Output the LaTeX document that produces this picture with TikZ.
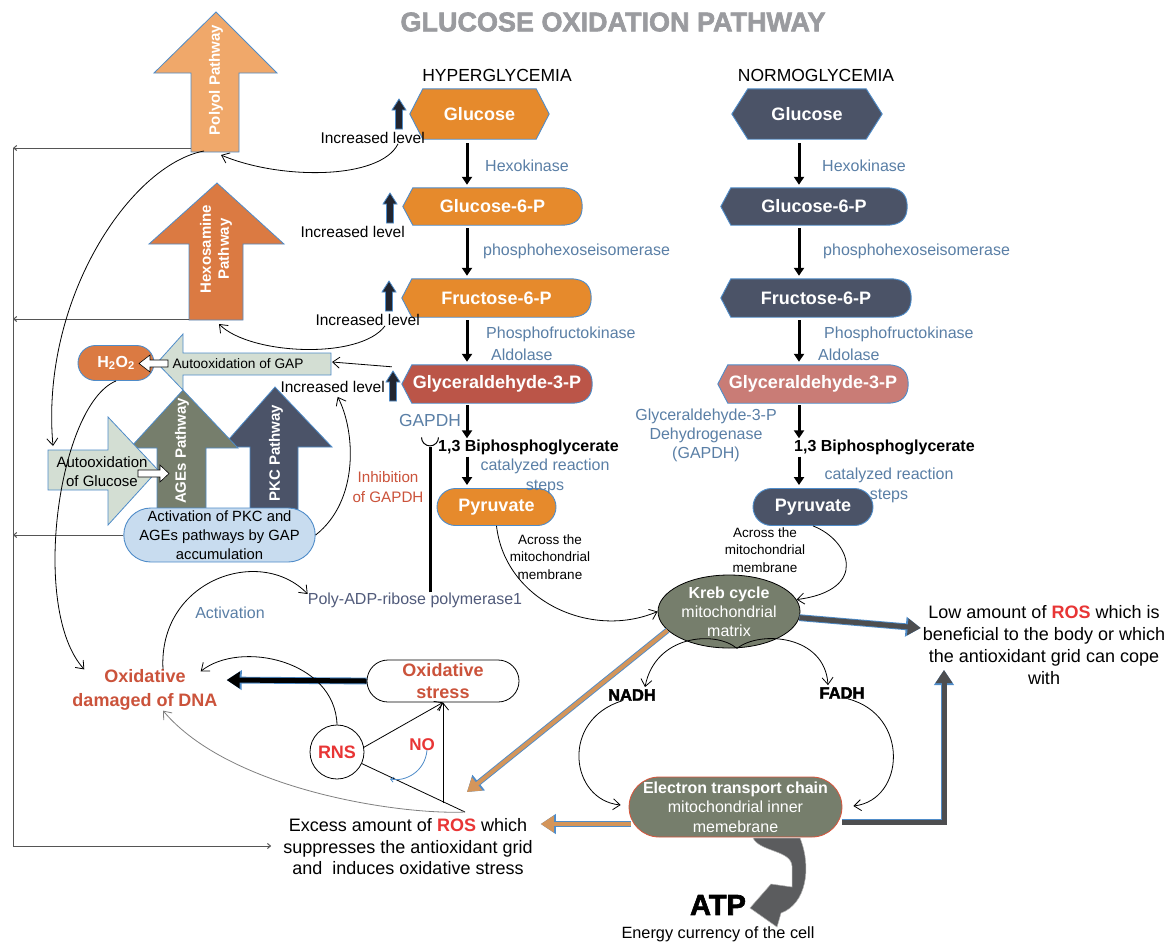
\documentclass[tikz,border=0pt]{standalone}
\usepackage{fontspec}
\setmainfont{Liberation Sans}
\newfontfamily\blackfont{Liberation Sans Bold}[FakeBold=2.2]
\usetikzlibrary{calc,arrows.meta,shapes.geometric,shapes.misc}
\definecolor{orangeb}{HTML}{E68A2C}
\definecolor{slateb}{HTML}{4B5367}
\definecolor{redb}{HTML}{BB5548}
\definecolor{pinkb}{HTML}{C97C76}
\definecolor{edgeblue}{HTML}{4F8CC9}
\definecolor{enzblue}{HTML}{5A7FA6}
\definecolor{polyolc}{HTML}{F0A86A}
\definecolor{hexoc}{HTML}{DB7A42}
\definecolor{paleg}{HTML}{D3DED3}
\definecolor{agesc}{HTML}{767E6C}
\definecolor{pkcc}{HTML}{4B5368}
\definecolor{actc}{HTML}{C8DCEF}
\definecolor{redtxt}{HTML}{CB533B}
\definecolor{rosred}{HTML}{E83535}
\definecolor{krebc}{HTML}{767E6C}
\definecolor{etcedge}{HTML}{D9553C}
\definecolor{darkarr}{HTML}{4D4E50}
\definecolor{atpc}{HTML}{5B5C5E}
\definecolor{orangearr}{HTML}{D4955A}
\definecolor{titlegray}{HTML}{9A9B9F}
\definecolor{polytxt}{HTML}{515B7B}
\definecolor{framegray}{HTML}{555555}
\definecolor{incdark}{HTML}{22252F}
\definecolor{linkgray}{HTML}{808080}
\pgfdeclarelayer{bg}
\pgfsetlayers{bg,main}
\tikzset{
  boxline/.style={draw=edgeblue, line width=0.9pt},
  boxlab/.style={inner sep=0pt, text=white, font=\fontsize{18}{20}\selectfont\bfseries},
  pillbox/.style={boxlab, rounded rectangle, boxline, minimum width=120pt, minimum height=37pt},
  enzlab/.style={inner sep=0pt, text=enzblue, font=\fontsize{16}{20}\selectfont},
  bpglab/.style={inner sep=0pt, font=\fontsize{16}{19}\selectfont\bfseries},
  inclab/.style={inner sep=0pt, font=\fontsize{15.5}{18}\selectfont},
  smalllab/.style={inner sep=0pt, align=center, font=\fontsize{13.5}{17.5}\selectfont},
  biglab/.style={inner sep=0pt, align=center, font=\fontsize{18}{21.5}\selectfont},
  redlab/.style={inner sep=0pt, align=center, text=redtxt, font=\fontsize{18}{23}\selectfont\bfseries},
  pathlab/.style={inner sep=0pt, align=center, text=white, rotate=90, font=\fontsize{15}{18}\selectfont\bfseries},
  flowarr/.style={line width=3pt, -{Triangle[length=8pt,width=10pt]}},
  linkarr/.style={line width=0.8pt, -{Straight Barb[length=7pt,width=11pt]}},
  framel/.style={draw=framegray, line width=1pt},
  tinytip/.style={-{Straight Barb[length=3pt,width=5pt]}},
}
% hexagon behind a node
\newcommand\hexshape[3]{%
  \begin{pgfonlayer}{bg}
  \path[boxline, fill=#2] (#1.west) -- ($(#1.north west)+(#3,0)$) -- ($(#1.north east)+(-#3,0)$)
    -- (#1.east) -- ($(#1.south east)+(-#3,0)$) -- ($(#1.south west)+(#3,0)$) -- cycle;
  \end{pgfonlayer}}
% pointed left end, rounded right end
\newcommand\dispshape[2]{%
  \begin{pgfonlayer}{bg}
  \path[boxline, fill=#2] (#1.west) -- ($(#1.north west)+(10,0)$) -- ($(#1.north east)+(-21,0)$)
    .. controls ($(#1.north east)+(-6,0)$) and ($(#1.east)+(0,-12)$) .. (#1.east)
    .. controls ($(#1.east)+(0,12)$) and ($(#1.south east)+(-6,0)$) .. ($(#1.south east)+(-21,0)$)
    -- ($(#1.south west)+(10,0)$) -- cycle;
  \end{pgfonlayer}}
% small up arrow
\newcommand\incarrow[2]{%
  \path[fill=incdark, draw=edgeblue, line width=0.8pt] (#1-3.5,#2+30) -- (#1-3.5,#2+11) -- (#1-7,#2+11)
    -- (#1,#2) -- (#1+7,#2+11) -- (#1+3.5,#2+11) -- (#1+3.5,#2+30) -- cycle;}
% thick arrow with blue rim
\newcommand\fatarrow[3]{%
  \draw[edgeblue, line width=#2+1.8pt, -{Triangle[length=15pt,width=19pt]}] #3;
  \draw[#1, line width=#2, -{Triangle[length=13pt,width=16pt]}] #3;}

\begin{document}
\begin{tikzpicture}[x=1pt,y=-1pt]
  \useasboundingbox (0,0) rectangle (1167,943);
  \begin{pgfonlayer}{bg}
    \fill[white] (0,0) rectangle (1167,943);
  \end{pgfonlayer}

  \node[font=\fontsize{27}{29}\blackfont, text=titlegray] (title) at (613,22) {GLUCOSE OXIDATION PATHWAY};
  \node[font=\fontsize{17.5}{20}\selectfont] (hyper) at (497,75) {HYPERGLYCEMIA};
  \node[font=\fontsize{17.5}{20}\selectfont] (normo) at (816,75) {NORMOGLYCEMIA};

  % hyperglycemia column
  \node[boxlab, minimum width=139pt, minimum height=50pt] (hglu) at (479.5,114) {Glucose};
  \hexshape{hglu}{orangeb}{13}
  \node[boxlab, minimum width=179pt, minimum height=37pt] (hgsix) at (492.5,206.5) {Glucose-6-P};
  \dispshape{hgsix}{orangeb}
  \node[boxlab, minimum width=189pt, minimum height=38pt] (hfsix) at (496.5,298) {Fructose-6-P};
  \dispshape{hfsix}{orangeb}
  \node[boxlab, minimum width=190pt, minimum height=38pt] (hgap) at (497,384) {Glyceraldehyde-3-P};
  \dispshape{hgap}{redb}
  \node[bpglab, anchor=west] (hbpg) at (438,447) {1,3 Biphosphoglycerate};
  \node[pillbox, fill=orangeb, minimum width=119pt] (hpyr) at (496.5,507) {Pyruvate};

  \coordinate (hcol) at (467,0);
  \draw[flowarr] ($(hglu.south -| hcol)+(0,4)$) -- ($(hgsix.north -| hcol)+(0,-3)$);
  \draw[flowarr] ($(hgsix.south -| hcol)+(0,3)$) -- ($(hfsix.north -| hcol)+(0,-3)$);
  \draw[flowarr] ($(hfsix.south -| hcol)+(0,3)$) -- ($(hgap.north -| hcol)+(0,-3)$);
  \draw[flowarr] ($(hgap.south -| hcol)+(0,2)$) -- ($(hbpg.north -| hcol)+(0,-1)$);
  \draw[flowarr] ($(hbpg.south -| hcol)+(0,2)$) -- ($(hpyr.north -| hcol)+(0,-3)$);

  \node[enzlab, anchor=west] (hhexo) at (485,166) {Hexokinase};
  \node[enzlab, anchor=west] (hiso) at (483,251) {phosphohexoseisomerase};
  \node[enzlab, anchor=west] (hpfk) at (486,334) {Phosphofructokinase};
  \node[enzlab, anchor=west] (hald) at (491,355) {Aldolase};
  \node[enzlab, font=\fontsize{17.4}{20}\selectfont] (gapdh) at (430,421) {GAPDH};
  \node[enzlab, align=center] (hcat) at (545,476) {catalyzed reaction\\steps};
  \node[smalllab] (hacross) at (550,557) {Across the\\mitochondrial\\membrane};

  % normoglycemia column
  \node[boxlab, minimum width=150pt, minimum height=50pt] (nglu) at (807,114) {Glucose};
  \hexshape{nglu}{slateb}{16}
  \node[boxlab, minimum width=186pt, minimum height=37pt] (ngsix) at (814,206.5) {Glucose-6-P};
  \dispshape{ngsix}{slateb}
  \node[boxlab, minimum width=190pt, minimum height=38pt] (nfsix) at (816,298) {Fructose-6-P};
  \dispshape{nfsix}{slateb}
  \node[boxlab, minimum width=190pt, minimum height=38pt] (ngap) at (813,384) {Glyceraldehyde-3-P};
  \dispshape{ngap}{pinkb}
  \node[bpglab, anchor=west] (nbpg) at (794,447) {1,3 Biphosphoglycerate};
  \node[pillbox, fill=slateb] (npyr) at (813,507) {Pyruvate};

  \coordinate (ncol) at (799,0);
  \draw[flowarr] ($(nglu.south -| ncol)+(0,4)$) -- ($(ngsix.north -| ncol)+(0,-3)$);
  \draw[flowarr] ($(ngsix.south -| ncol)+(0,3)$) -- ($(nfsix.north -| ncol)+(0,-3)$);
  \draw[flowarr] ($(nfsix.south -| ncol)+(0,3)$) -- ($(ngap.north -| ncol)+(0,-3)$);
  \draw[flowarr] ($(ngap.south -| ncol)+(0,2)$) -- ($(nbpg.north -| ncol)+(0,-1)$);
  \draw[flowarr] ($(nbpg.south -| ncol)+(0,2)$) -- ($(npyr.north -| ncol)+(0,-3)$);

  \node[enzlab, anchor=west] (nhexo) at (822,166) {Hexokinase};
  \node[enzlab, anchor=west] (niso) at (823,251) {phosphohexoseisomerase};
  \node[enzlab, anchor=west] (npfk) at (824,334) {Phosphofructokinase};
  \node[enzlab, anchor=west] (nald) at (818,355) {Aldolase};
  \node[enzlab, align=center, font=\fontsize{16}{19}\selectfont] (ngapdh) at (706,435) {Glyceraldehyde-3-P\\Dehydrogenase\\(GAPDH)};
  \node[enzlab, align=center] (ncat) at (889,485) {catalyzed reaction\\steps};
  \node[smalllab] (nacross) at (765,550) {Across the\\mitochondrial\\membrane};

  % increased levels
  \node[inclab, anchor=east] (incglu) at (425,138) {Increased level};
  \incarrow{399}{99}
  \node[inclab, anchor=east] (incgsix) at (405,232) {Increased level};
  \incarrow{390}{193}
  \node[inclab, anchor=east] (incfru) at (420,320) {Increased level};
  \incarrow{389}{281}
  \node[inclab, anchor=east] (incgap) at (385,387) {Increased level};
  \incarrow{393}{371}

  % side pathways
  \path[fill=polyolc, draw=edgeblue, line width=0.8pt] (191,152) -- (191,73) -- (154,73) -- (216,12)
    -- (277,73) -- (239,73) -- (239,152) -- cycle;
  \node[pathlab] (polyol) at (216,80) {Polyol Pathway};
  \path[fill=hexoc, draw=edgeblue, line width=0.8pt] (189,320) -- (189,244) -- (149,244) -- (217,183)
    -- (284,244) -- (243,244) -- (243,320) -- cycle;
  \node[pathlab] (hexo) at (216,249) {Hexosamine\\Pathway};
  \coordinate (polyolL) at (191,148);
  \coordinate (polyolS) at (204,151);
  \coordinate (polyolB) at (221,155);
  \coordinate (hexoL) at (189,319);
  \coordinate (hexoB) at (219,324);

  \path[fill=paleg, draw=edgeblue, line width=0.8pt] (331,353) -- (183,353) -- (183,334) -- (157,363)
    -- (183,390) -- (183,375) -- (331,375) -- cycle;
  \node[inner sep=0pt, font=\fontsize{13.7}{16}\selectfont] (gapox) at (238,364) {Autooxidation of GAP};
  \coordinate (gapoxR) at (332,362);
  \node[rounded rectangle, fill=hexoc, boxline, minimum width=76pt, minimum height=35pt, inner sep=0pt,
    text=white, font=\fontsize{16}{18}\selectfont\bfseries] (htwo) at (116,363) {H\textsubscript{2}O\textsubscript{2}};
  \path[fill=white, draw=black, line width=0.6pt] (168,360) -- (150,360) -- (150,355) -- (139,363.5)
    -- (150,372) -- (150,367) -- (168,367) -- cycle;

  \path[fill=pkcc, draw=edgeblue, line width=0.8pt] (250,525) -- (250,447) -- (222,447) -- (275,387)
    -- (332,447) -- (298,447) -- (298,525) -- cycle;
  \node[pathlab] (pkc) at (276,453) {PKC Pathway};
  \path[fill=agesc, draw=edgeblue, line width=0.8pt] (157,525) -- (157,448) -- (130,448) -- (183,390)
    -- (238,448) -- (206,448) -- (206,525) -- cycle;
  \node[pathlab] (ages) at (182,451) {AGEs Pathway};
  \path[fill=paleg, draw=edgeblue, line width=0.8pt] (48,450) -- (108,450) -- (108,417) -- (158,470)
    -- (108,525) -- (108,490) -- (48,490) -- cycle;
  \node[inner sep=0pt, align=center, font=\fontsize{15}{19}\selectfont] (gluox) at (102,472) {Autooxidation\\of Glucose};
  \coordinate (gluoxT) at (53,446);
  \path[fill=white, draw=black, line width=0.6pt] (138,470) -- (160,470) -- (160,465) -- (169,473.5)
    -- (160,482) -- (160,477) -- (138,477) -- cycle;
  \node[rounded rectangle, fill=actc, boxline, minimum width=185pt, minimum height=54pt, inner sep=0pt,
    align=center, font=\fontsize{14.8}{19}\selectfont] (act) at (219.5,535)
    {Activation of PKC and\\AGEs pathways by GAP\\accumulation};

  % left frame
  \coordinate (frA) at (13,148);
  \coordinate (frB) at (13,319);
  \coordinate (frC) at (13,535);
  \coordinate (frD) at (13,846);
  \draw[framel, tinytip] (polyolL) -- (frA);
  \draw[framel, tinytip] (hexoL) -- (frB);
  \draw[framel, tinytip] (act.west) -- (frC);
  \draw[framel] (frA) -- (frD);

  % lower left texts
  \node[redlab, font=\fontsize{18}{24}\selectfont\bfseries] (dna) at (145,690) {Oxidative\\damaged of DNA};
  \node[inner sep=0pt, text=polytxt, font=\fontsize{16}{19}\selectfont] (parp) at (415,600) {Poly-ADP-ribose polymerase1};
  \node[enzlab] (actlab) at (230,613) {Activation};
  \node[inner sep=0pt, align=center, text=redtxt, font=\fontsize{15.2}{20}\selectfont] (inhib) at (388,487) {Inhibition\\of GAPDH};
  \node[rounded rectangle, draw=black, line width=0.8pt, fill=white, minimum width=152pt, minimum height=42pt,
    redlab, font=\fontsize{18}{22}\selectfont\bfseries] (ostress) at (443,681) {Oxidative\\stress};
  \node[circle, draw=black, line width=0.8pt, minimum size=54pt, inner sep=0pt, text=rosred,
    font=\fontsize{18}{20}\selectfont\bfseries] (rns) at (337,752) {RNS};
  \node[inner sep=0pt, text=rosred, font=\fontsize{17}{20}\selectfont\bfseries] (nomark) at (422,745) {NO};
  \node[biglab] (exc) at (408,847) {Excess amount of \textcolor{rosred}{\bfseries ROS} which\\suppresses the antioxidant grid\\and\ \ induces oxidative stress};
  \node[biglab, font=\fontsize{18}{22}\selectfont] (low) at (1044,645) {Low amount of \textcolor{rosred}{\bfseries ROS} which is\\beneficial to the body or which\\the antioxidant grid can cope\\with};
  \coordinate (rosjoin) at (465,812);
  \coordinate (rosv) at (443,803);
  \coordinate (excT) at (467,792);
  \coordinate (lowB) at (944,670);
  \coordinate (noend) at (390,779);
  \draw[framel, tinytip] (frD) -- ($(frD -| exc.west)+(-12,0)$);

  % mitochondria
  \node[ellipse, fill=krebc, draw=black, line width=0.8pt, minimum width=142pt, minimum height=73pt, inner sep=0pt,
    text=white, align=center, font=\fontsize{16}{19}\selectfont] (kreb) at (729,611.5)
    {\textbf{Kreb cycle}\\mitochondrial\\matrix};
  \node[inner sep=0pt, font=\fontsize{16.5}{18}\blackfont] (nadh) at (632,695) {NADH};
  \node[inner sep=0pt, font=\fontsize{16.5}{18}\blackfont] (fadh) at (842,693) {FADH};
  \node[rounded rectangle, fill=krebc, draw=etcedge, line width=0.8pt, minimum width=211pt, minimum height=60pt,
    inner sep=0pt, text=white, align=center, font=\fontsize{16}{19.5}\selectfont] (etc) at (735.5,807)
    {\textbf{Electron transport chain}\\mitochondrial inner\\memebrane};
  \node[inner sep=0pt, font=\fontsize{29}{30}\blackfont] (atp) at (718,905) {ATP};
  \node[inner sep=0pt, font=\fontsize{16.3}{19}\selectfont] (energy) at (718,934) {Energy currency of the cell};
  \path[fill=atpc, draw=gray!60, line width=0.5pt] (753,838) .. controls (760,852) and (791,850) .. (792,866)
    -- (792,887) -- (771,884) -- (750,908) -- (777,927) -- (781,913)
    .. controls (806,904) and (812,868) .. (800,838) -- cycle;

  % connectors
  \draw[linkarr] ($(incglu.south east)+(-27,0)$) .. controls (380,180) and (280,180) .. (polyolB);
  \draw[linkarr] (polyolS) .. controls (130,165) and (40,300) .. (gluoxT);
  \draw[linkarr] ($(incfru.south east)+(-35,0)$) .. controls (360,360) and (250,355) .. (hexoB);
  \draw[linkarr] ($(hgap.north west)+(-10,2)$) -- (gapoxR);
  \draw[linkarr] (act.east) .. controls (360,500) and (355,430) .. ($(incgap.south)+(5,4)$);
  \draw[linkarr] (htwo.south) .. controls (58,405) and (30,610) .. ($(dna.north west)+(12,0)$);
  \draw[linkarr] ($(dna.north)+(18,0)$) .. controls (158,580) and (260,545) .. ($(parp.west)+(0,-6)$);
  \draw[line width=3pt] (parp.north -| gapdh.south) -- ($(gapdh.south)+(0,20)$);
  \draw[line width=1pt] ($(gapdh.south)+(-8.5,10)$) arc[start angle=180, end angle=0, radius=8.5];
  \draw[linkarr] (hpyr.south) .. controls (505,600) and (590,640) .. (kreb.west);
  \draw[linkarr] (npyr.south) .. controls (850,540) and (870,590) .. (kreb.10);
  \draw[linkarr] ($(kreb.south)+(8,0)$) .. controls (715,630) and (655,635) .. ($(nadh.north)+(13,-2)$);
  \draw[linkarr] ($(kreb.south)+(8,0)$) .. controls (760,630) and (825,635) .. ($(fadh.north)+(-14,-2)$);
  \draw[linkarr] ($(nadh.south)+(-10,0)$) .. controls (560,720) and (570,800) .. ($(etc.west)+(-8,-2)$);
  \draw[linkarr] ($(fadh.south)+(6,0)$) .. controls (910,715) and (905,800) .. ($(etc.east)+(11,-1)$);
  \fatarrow{darkarr}{5pt}{(kreb.-5) -- ($(low.west)+(-2,-17)$)}
  \fatarrow{orangearr}{4pt}{(kreb.197) -- (excT)}
  \fatarrow{orangearr}{4pt}{($(etc.west)+(2,17)$) -- ($(exc.east)+(8,-23)$)}
  \fatarrow{darkarr}{5pt}{($(etc.east)+(0,15)$) -| (lowB)}
  \fatarrow{black}{5pt}{(ostress.west) -- ($(dna.east)+(9,-10)$)}
  \draw[linkarr] (rns.north) .. controls (335,660) and (240,640) .. ($(dna.north east)+(-17,2)$);
  \draw[linkarr] (rns.10) -- (ostress.south);
  \draw[line width=0.8pt] (rns.-25) -- (rosjoin);
  \draw[linkarr] (rosv) -- (ostress.south);
  \draw[draw=edgeblue, line width=0.8pt, tinytip] ($(nomark.south)+(5,-1)$) .. controls (425,772) and (405,782) .. (noend);
  \draw[linkarr, draw=linkgray] (rosjoin) .. controls (400,815) and (230,790) .. ($(dna.south)+(18,0)$);
\end{tikzpicture}
\end{document}
